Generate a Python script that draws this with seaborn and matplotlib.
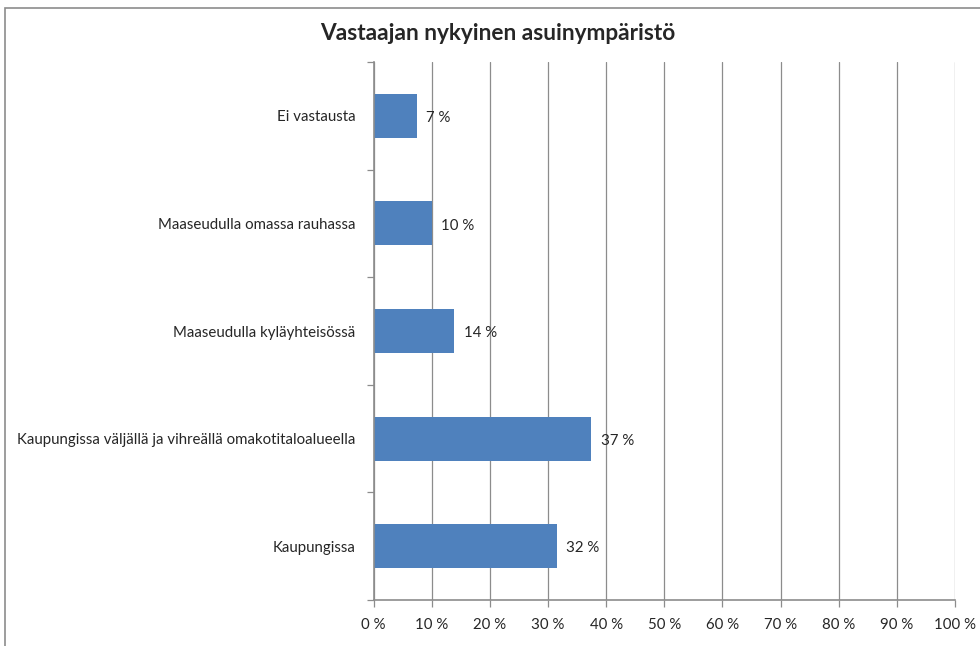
import matplotlib
matplotlib.use('Agg')
import matplotlib.pyplot as plt
import seaborn as sns
import pandas as pd
from matplotlib.patches import Rectangle
from matplotlib.ticker import FixedLocator, FuncFormatter

categories = [
    'Ei vastausta',
    'Maaseudulla omassa rauhassa',
    'Maaseudulla kyläyhteisössä',
    'Kaupungissa väljällä ja vihreällä omakotitaloalueella',
    'Kaupungissa',
]
shares = [7.4, 10.0, 13.9, 37.4, 31.5]
value_labels = ['7 %', '10 %', '14 %', '37 %', '32 %']
x_ticks = [0, 10, 20, 30, 40, 50, 60, 70, 80, 90, 100]

sns.set_style('white')
plt.rcParams['font.family'] = ['Lato', 'DejaVu Sans']
plt.rcParams['font.size'] = 10

df = pd.DataFrame({'category': categories, 'share': shares})

fig = plt.figure(figsize=(9.8, 6.46), dpi=100)
ax = fig.add_axes([373.5 / 980, 1 - 600 / 646, (955 - 373.5) / 980, (600 - 62) / 646])

sns.barplot(data=df, x='share', y='category', orient='h', color='#4F81BD',
            width=0.41, saturation=1, linewidth=0, ax=ax)

ax.set_xlim(0, 100)
ax.set_ylim(len(categories) - 0.5, -0.5)
ax.set_xlabel('')
ax.set_ylabel('')

ax.xaxis.set_major_locator(FixedLocator(x_ticks))
ax.xaxis.set_major_formatter(FuncFormatter(lambda v, p: f'{int(v)} %'))
ax.grid(axis='x', color='#8c8c8c', linewidth=0.9)
ax.set_axisbelow(True)
ax.tick_params(axis='x', direction='out', length=5, width=0.9, color='#8c8c8c',
               pad=8, labelsize=10.8, bottom=True)

ax.yaxis.set_minor_locator(FixedLocator([i - 0.5 for i in range(len(categories) + 1)]))
ax.tick_params(axis='y', which='major', length=0, pad=13, labelsize=10.8)
ax.tick_params(axis='y', which='minor', direction='out', length=5, width=0.9,
               color='#8c8c8c', left=True)

for side in ['top', 'right']:
    ax.spines[side].set_visible(False)
for side in ['left', 'bottom']:
    ax.spines[side].set_color('#8c8c8c')
    ax.spines[side].set_linewidth(1.2)

for i, (v, lab) in enumerate(zip(shares, value_labels)):
    ax.annotate(lab, xy=(v, i + 0.02), xytext=(7, 0), textcoords='offset points',
                va='center', ha='left', fontsize=10.8)

fig.text(498 / 980, 1 - 33 / 646, 'Vastaajan nykyinen asuinympäristö',
         ha='center', va='center', fontsize=16.3, fontweight='bold')

frame = Rectangle((5 / 980, -0.05), 1.1, 1 - 8 / 646 + 0.05, transform=fig.transFigure,
                  fill=False, edgecolor='#8c8c8c', linewidth=1.2, clip_on=False)
fig.patches.append(frame)

fig.savefig('out.png', dpi=100)
